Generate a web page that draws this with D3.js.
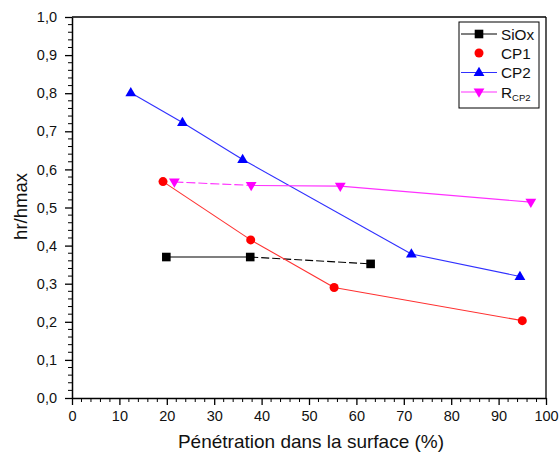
<!DOCTYPE html>
<html><head><meta charset="utf-8">
<script src="https://cdn.jsdelivr.net/npm/d3@7"></script>
<style>
html,body{margin:0;padding:0;background:#fff;}
text{font-family:"Liberation Sans",Arial,sans-serif;}
</style></head>
<body><svg id="c" width="560" height="459"></svg>
<script>
// ---- data ----
const sioxX = [19.9, 37.6, 63.0];
const sioxY = [0.370, 0.370, 0.352];
const cp1X = [19.2, 37.7, 55.3, 95.0];
const cp1Y = [0.568, 0.415, 0.290, 0.203];
const cp2X = [12.4, 23.3, 36.0, 71.6, 94.5];
const cp2Y = [0.801, 0.723, 0.626, 0.378, 0.319];
const rcp2X = [21.6, 37.8, 56.6, 96.8];
const rcp2Y = [0.567, 0.558, 0.556, 0.514];
const xTicks = [0,10,20,30,40,50,60,70,80,90,100];
const yTicks = [0,0.1,0.2,0.3,0.4,0.5,0.6,0.7,0.8,0.9,1.0];
const xTitle = "Pénétration dans la surface (%)";
const yTitle = "hr/hmax";
const seriesNames = ["SiOx","CP1","CP2","R"];

// ---- styles ----
const series = [
  {name:"SiOx", xs:sioxX, ys:sioxY, color:"#000000", line:"#000000", sym:"square", dash:[null,"8,3"]},
  {name:"CP1", xs:cp1X, ys:cp1Y, color:"#ff0000", line:"#ff3030", sym:"circle", dash:[null,null,null]},
  {name:"CP2", xs:cp2X, ys:cp2Y, color:"#0000ff", line:"#3030ff", sym:"triangle", dash:[null,null,null,null]},
  {name:"RCP2", xs:rcp2X, ys:rcp2Y, color:"#ff00ff", line:"#ff30ff", sym:"down", dash:["9,3",null,null]}
];

const svg = d3.select("#c");
const L=72, R=546, T=17, B=398;
const x = d3.scaleLinear().domain([0,100]).range([L,R]);
const y = d3.scaleLinear().domain([0,1]).range([B,T]);

// frame top/right
svg.append("line").attr("x1",L).attr("x2",R).attr("y1",T).attr("y2",T).attr("stroke","#000").attr("stroke-width",1.3);
svg.append("line").attr("x1",R).attr("x2",R).attr("y1",T).attr("y2",B).attr("stroke","#000").attr("stroke-width",1.3);

// minor ticks
const xMinor = d3.range(0,101,2).filter(v=>v%10!==0);
const yMinor = d3.range(0,51,1).map(v=>v/50).filter((v,i)=>i%5!==0);
svg.append("g").selectAll("line").data(xMinor).join("line")
  .attr("x1",d=>x(d)).attr("x2",d=>x(d)).attr("y1",B).attr("y2",B+4).attr("stroke","#000").attr("stroke-width",1);
svg.append("g").selectAll("line").data(yMinor).join("line")
  .attr("y1",d=>y(d)).attr("y2",d=>y(d)).attr("x1",L).attr("x2",L-4).attr("stroke","#000").attr("stroke-width",1);

// axes
const fmt = d=>d3.format(".1f")(d).replace(".",",");
const xa = svg.append("g").attr("transform",`translate(0,${B})`)
  .call(d3.axisBottom(x).tickValues(xTicks).tickSize(7).tickSizeOuter(0).tickPadding(6).tickFormat(d3.format("d")));
const ya = svg.append("g").attr("transform",`translate(${L},0)`)
  .call(d3.axisLeft(y).tickValues(yTicks).tickSize(7).tickSizeOuter(0).tickPadding(8).tickFormat(fmt));
[xa,ya].forEach(a=>{
  a.select(".domain").attr("stroke-width",1.5);
  a.selectAll(".tick line").attr("stroke-width",1.3);
  a.selectAll("text").attr("font-size",14.5).attr("fill","#111").attr("font-family","Liberation Sans, Arial, sans-serif");
});

// titles
svg.append("text").attr("x",(L+R)/2 + 2).attr("y",448).attr("text-anchor","middle").attr("font-size",19).attr("fill","#111").text(xTitle);
svg.append("text").attr("transform",`translate(27,${(T+B)/2 - 1}) rotate(-90)`).attr("text-anchor","middle").attr("font-size",18.5).attr("fill","#111").text(yTitle);

// symbols
function drawSym(g, sym, cx, cy, color){
  if(sym==="square") g.append("rect").attr("x",cx-4.3).attr("y",cy-4.3).attr("width",8.6).attr("height",8.6).attr("fill",color);
  else if(sym==="circle") g.append("circle").attr("cx",cx).attr("cy",cy).attr("r",4.5).attr("fill",color);
  else if(sym==="triangle") g.append("path").attr("d",`M${cx},${cy-5.8}L${cx+5.4},${cy+3.5}L${cx-5.4},${cy+3.5}Z`).attr("fill",color);
  else if(sym==="down") g.append("path").attr("d",`M${cx},${cy+5.8}L${cx+5.4},${cy-3.5}L${cx-5.4},${cy-3.5}Z`).attr("fill",color);
}

series.forEach(s=>{
  const g = svg.append("g");
  const pts = s.xs.map((v,i)=>[x(v),y(s.ys[i])]);
  for(let i=0;i<pts.length-1;i++){
    const ln = g.append("line").attr("x1",pts[i][0]).attr("y1",pts[i][1]).attr("x2",pts[i+1][0]).attr("y2",pts[i+1][1])
      .attr("stroke",s.line).attr("stroke-width",1.1);
    if(s.dash[i]) ln.attr("stroke-dasharray",s.dash[i]);
  }
  pts.forEach(p=>drawSym(g,s.sym,p[0],p[1],s.color));
});

// legend
const lg = svg.append("g");
lg.append("rect").attr("x",459).attr("y",22).attr("width",80).attr("height",86).attr("fill","#fff").attr("stroke","#000").attr("stroke-width",1);
const rows=[34,53,72.5,92];
series.forEach((s,i)=>{
  const yy=rows[i];
  if(s.name!=="CP1") lg.append("line").attr("x1",461).attr("x2",497).attr("y1",yy).attr("y2",yy).attr("stroke",s.line).attr("stroke-width",1.1);
  drawSym(lg,s.sym,479,yy,s.color);
  const t = lg.append("text").attr("x",501).attr("y",yy+5.5).attr("font-size",15.3).attr("fill","#111");
  if(s.name==="RCP2"){
    t.append("tspan").text(seriesNames[3]);
    t.append("tspan").attr("font-size",9.5).attr("dy",3).text("CP2");
  } else t.text(s.name);
});
</script></body></html>
